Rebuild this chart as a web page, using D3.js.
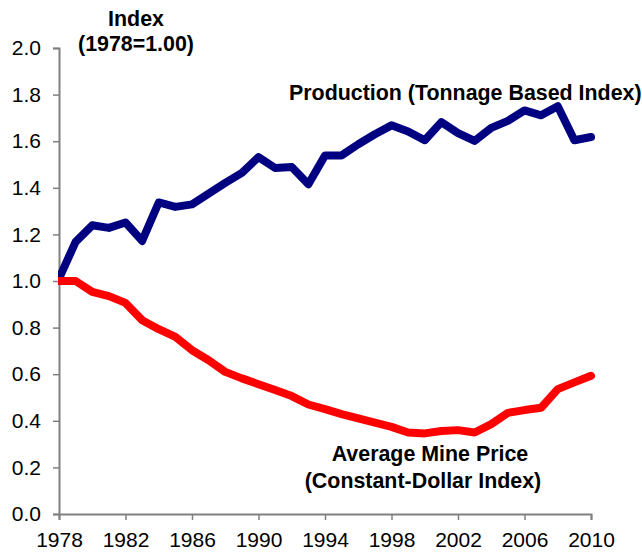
<!DOCTYPE html>
<html>
<head>
<meta charset="utf-8">
<script src="https://cdn.jsdelivr.net/npm/d3@7"></script>
<style>
  body { margin: 0; background: #fff; }
  text { font-family: Arial, "Liberation Sans", sans-serif; fill: #000; }
  .tick-label { font-size: 21px; }
  .chart-label { font-size: 21.4px; font-weight: bold; }
</style>
</head>
<body>
<div class="chart"></div>
<script>
// years and the two index series (1978 = 1.00)
var years = d3.range(1978, 2011);
var production = [1.01, 1.168, 1.239, 1.228, 1.251, 1.172, 1.337, 1.318, 1.329, 1.375,
    1.421, 1.464, 1.532, 1.485, 1.489, 1.415, 1.539, 1.539, 1.587, 1.630,
    1.668, 1.642, 1.604, 1.682, 1.635, 1.601, 1.657, 1.687, 1.732, 1.711,
    1.750, 1.604, 1.618];
var minePrice = [1.0, 1.0, 0.953, 0.935, 0.906, 0.832, 0.793, 0.760, 0.703, 0.660,
    0.610, 0.582, 0.557, 0.532, 0.506, 0.470, 0.450, 0.429, 0.410, 0.392,
    0.374, 0.350, 0.346, 0.356, 0.360, 0.350, 0.386, 0.434, 0.446, 0.456,
    0.536, 0.565, 0.593];
var xTicks = [1978, 1982, 1986, 1990, 1994, 1998, 2002, 2006, 2010];
var yTicks = [0, 0.2, 0.4, 0.6, 0.8, 1.0, 1.2, 1.4, 1.6, 1.8, 2.0];

function drawChart() {
    var margin = {top: 48, right: 51, bottom: 38, left: 59};
    var width = 642 - margin.left - margin.right;
    var height = 552 - margin.top - margin.bottom;

    var x = d3.scaleLinear().domain([1978, 2010]).range([0, width]);
    var y = d3.scaleLinear().domain([0, 2]).range([height, 0]);

    var svg = d3.select(".chart").append("svg")
        .attr("width", width + margin.left + margin.right)
        .attr("height", height + margin.top + margin.bottom);

    var g = svg.append("g")
        .attr("transform", `translate(${margin.left}, ${margin.top})`);

    // lines get cut at the y axis, like the original
    g.append("clipPath").attr("id", "plot-clip")
        .append("rect")
        .attr("x", -1).attr("y", -20)
        .attr("width", width + 30).attr("height", height + 40);

    // y axis
    var yAxis = g.append("g")
        .call(d3.axisLeft(y).tickValues(yTicks).tickSize(6).tickFormat(d3.format(".1f")));
    // x axis
    var xAxis = g.append("g")
        .attr("transform", `translate(0, ${height})`)
        .call(d3.axisBottom(x).tickValues(xTicks).tickSize(6).tickFormat(d3.format("d")));

    [xAxis, yAxis].forEach(function(ax) {
        ax.select(".domain").attr("stroke", "#808080").attr("stroke-width", 2);
        ax.selectAll(".tick line").attr("stroke", "#808080").attr("stroke-width", 1.5);
        ax.selectAll(".tick text")
            .attr("class", "tick-label")
            .attr("font-family", null)
            .attr("font-size", null)
            .attr("fill", "#000");
    });
    yAxis.selectAll(".tick text").attr("x", -18);
    xAxis.selectAll(".tick text").attr("y", 18);

    var line = d3.line()
        .x((d, i) => x(years[i]))
        .y(d => y(d));

    var lines = g.append("g").attr("clip-path", "url(#plot-clip)");

    lines.append("path")
        .datum(production)
        .attr("fill", "none")
        .attr("stroke", "#000080")
        .attr("stroke-width", 8)
        .attr("stroke-linejoin", "round")
        .attr("stroke-linecap", "round")
        .attr("d", line);

    lines.append("path")
        .datum(minePrice)
        .attr("fill", "none")
        .attr("stroke", "#ff0000")
        .attr("stroke-width", 8)
        .attr("stroke-linejoin", "round")
        .attr("stroke-linecap", "round")
        .attr("d", line);

    // labels
    svg.append("text").attr("class", "chart-label")
        .attr("x", 136).attr("y", 26).attr("text-anchor", "middle")
        .text("Index");
    svg.append("text").attr("class", "chart-label")
        .attr("x", 136).attr("y", 51).attr("text-anchor", "middle")
        .text("(1978=1.00)");
    svg.append("text").attr("class", "chart-label")
        .attr("x", 289).attr("y", 100)
        .text("Production (Tonnage Based Index)");
    svg.append("text").attr("class", "chart-label")
        .attr("x", 430).attr("y", 461).attr("text-anchor", "middle")
        .text("Average Mine Price");
    svg.append("text").attr("class", "chart-label")
        .attr("x", 423).attr("y", 488).attr("text-anchor", "middle")
        .text("(Constant-Dollar Index)");
}

drawChart();
</script>
</body>
</html>
